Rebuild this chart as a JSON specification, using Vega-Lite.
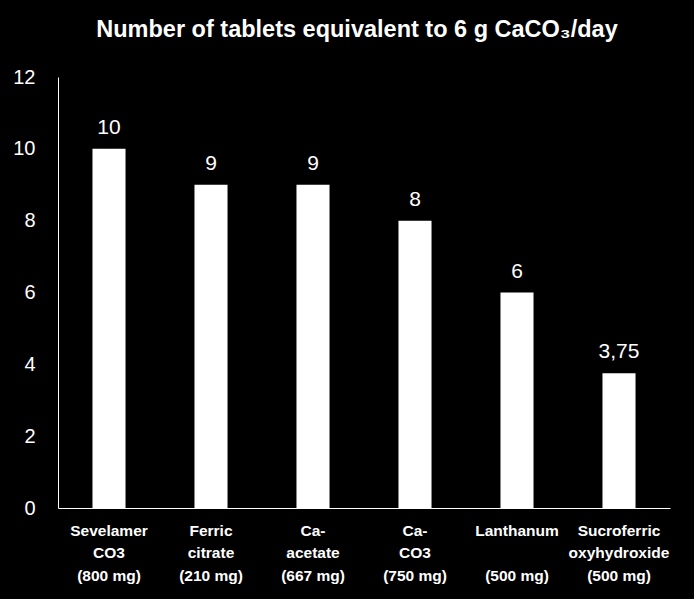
{
  "$schema": "https://vega.github.io/schema/vega-lite/v6.json",
  "width": 612,
  "height": 431,
  "autosize": {"type": "none"},
  "padding": {"left": 58, "top": 77, "right": 24, "bottom": 91},
  "background": "black",
  "config": {
    "view": {"stroke": null},
    "locale": {"number": {"decimal": ",", "thousands": ".", "grouping": [3], "currency": ["", "€"]}}
  },
  "title": {
    "text": "Number of tablets equivalent to 6 g CaCO₃/day",
    "font": "Liberation Sans",
    "fontSize": 23.5,
    "fontWeight": "bold",
    "color": "white",
    "anchor": "middle",
    "baseline": "alphabetic",
    "dx": -7,
    "offset": 7
  },
  "data": {
    "values": [
      {"binder": "Sevelamer|CO3|(800 mg)", "tablets": 10},
      {"binder": "Ferric|citrate|(210 mg)", "tablets": 9},
      {"binder": "Ca-|acetate|(667 mg)", "tablets": 9},
      {"binder": "Ca-|CO3|(750 mg)", "tablets": 8},
      {"binder": "Lanthanum|\u200b|(500 mg)", "tablets": 6},
      {"binder": "Sucroferric|oxyhydroxide|(500 mg)", "tablets": 3.75}
    ]
  },
  "encoding": {
    "x": {
      "field": "binder",
      "type": "nominal",
      "sort": null,
      "scale": {"paddingInner": 0.676, "paddingOuter": 0.338},
      "axis": {
        "title": null,
        "labelAngle": 0,
        "labelExpr": "split(datum.label, '|')",
        "labelFont": "Liberation Sans",
        "labelFontWeight": "bold",
        "labelFontSize": 15.5,
        "labelLineHeight": 22.5,
        "labelColor": "white",
        "labelPadding": 15,
        "labelBaseline": "top",
        "ticks": false,
        "domainColor": "white",
        "domainWidth": 1,
        "grid": false
      }
    },
    "y": {
      "field": "tablets",
      "type": "quantitative",
      "scale": {"domain": [0, 12], "nice": false},
      "axis": {
        "title": null,
        "values": [0, 2, 4, 6, 8, 10, 12],
        "labelFont": "Liberation Sans",
        "labelFontSize": 20,
        "labelColor": "white",
        "labelPadding": 23,
        "ticks": false,
        "domainColor": "white",
        "domainWidth": 1,
        "grid": false
      }
    }
  },
  "layer": [
    {"mark": {"type": "bar", "color": "white"}},
    {
      "mark": {"type": "text", "color": "white", "font": "Liberation Sans", "fontSize": 21, "baseline": "alphabetic", "dy": -15},
      "encoding": {"text": {"field": "tablets", "type": "quantitative", "format": ".3~g"}}
    }
  ]
}
